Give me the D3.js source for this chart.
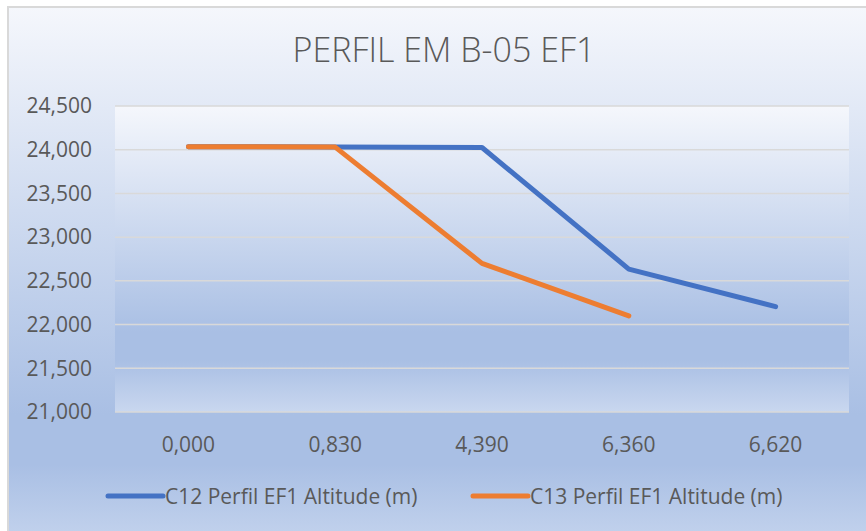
<!DOCTYPE html>
<meta charset="utf-8">
<style>
body { margin: 0; background: #fff; }
text { font-family: "Open Sans", sans-serif; fill: #595959; }
.grid line { stroke: #d9d9d9; stroke-width: 1.5; }
</style>
<svg width="866" height="531"></svg>
<script src="https://cdn.jsdelivr.net/npm/d3@7"></script>
<script>

var categories = ["0,000", "0,830", "4,390", "6,360", "6,620"];
var c12 = [24.035, 24.03, 24.025, 22.635, 22.205];
var c13 = [24.035, 24.03, 22.7, 22.1];
var yTicks = [21, 21.5, 22, 22.5, 23, 23.5, 24, 24.5];
var seriesNames = ["C12 Perfil EF1 Altitude (m)", "C13 Perfil EF1 Altitude (m)"];
var colors = ["#4472c4", "#ed7d31"];

var svg = d3.select("svg"),
    width = +svg.attr("width"),
    height = +svg.attr("height");

var margin = {top: 106, right: 17, bottom: 119, left: 115};

// gradient like excel light gradient accent 1
var defs = svg.append("defs");
var grad = defs.append("linearGradient")
    .attr("id", "bg")
    .attr("x1", 0).attr("y1", 0).attr("x2", 0).attr("y2", 1);
grad.append("stop").attr("offset", "0%").attr("stop-color", "#f5f7fc");
grad.append("stop").attr("offset", "74%").attr("stop-color", "#a9bfe4");
grad.append("stop").attr("offset", "83%").attr("stop-color", "#a9bfe4");
grad.append("stop").attr("offset", "100%").attr("stop-color", "#c9d7ef");

svg.append("rect")
    .attr("x", 8).attr("y", 7)
    .attr("width", width + 10).attr("height", height + 20)
    .attr("fill", "url(#bg)")
    .attr("stroke", "#d9d9d9")
    .attr("stroke-width", 2);

var x = d3.scaleBand()
    .domain(categories)
    .range([margin.left, width - margin.right]);

var y = d3.scaleLinear()
    .domain([21, 24.5])
    .range([height - margin.bottom, margin.top]);

svg.append("rect")
    .attr("x", margin.left).attr("y", margin.top)
    .attr("width", width - margin.left - margin.right)
    .attr("height", height - margin.top - margin.bottom)
    .attr("fill", "url(#bg)");

var fmt = function(d) { return d3.format(",.3f")(d).replace(".", ","); };

// grid
svg.append("g")
    .attr("class", "grid")
  .selectAll("line")
  .data(yTicks)
  .enter().append("line")
    .attr("x1", margin.left)
    .attr("x2", width - margin.right)
    .attr("y1", function(d) { return y(d); })
    .attr("y2", function(d) { return y(d); });

// y axis
var yAxis = svg.append("g")
    .attr("transform", "translate(" + (margin.left - 23) + ",0)")
    .call(d3.axisLeft(y).tickValues(yTicks).tickSize(0).tickFormat(fmt));
yAxis.select(".domain").remove();
yAxis.selectAll("text")
    .attr("x", 0)
    .style("font-size", "21px")
    .style("font-family", null)
    .attr("fill", "#595959");

// x axis
var xAxis = svg.append("g")
    .attr("transform", "translate(0," + (height - margin.bottom) + ")")
    .call(d3.axisBottom(x).tickSize(0));
xAxis.select(".domain").remove();
xAxis.selectAll("text")
    .attr("y", 40)
    .attr("dy", null)
    .style("font-size", "21px")
    .style("font-family", null)
    .attr("fill", "#595959");

var line = d3.line()
    .x(function(d, i) { return x(categories[i]) + x.bandwidth() / 2; })
    .y(function(d) { return y(d); });

[c12, c13].forEach(function(s, i) {
  svg.append("path")
      .datum(s)
      .attr("fill", "none")
      .attr("stroke", colors[i])
      .attr("stroke-width", 5)
      .attr("stroke-linejoin", "round")
      .attr("stroke-linecap", "round")
      .attr("d", line);
});

// title
svg.append("text")
    .attr("x", 444)
    .attr("y", 62)
    .attr("text-anchor", "middle")
    .style("font-size", "34px")
    .style("font-weight", 300)
    .text("PERFIL EM B-05 EF1");

// legend
var legX = [108, 473];
var leg = svg.append("g").selectAll("g")
  .data(seriesNames)
  .enter().append("g")
    .attr("transform", function(d, i) { return "translate(" + legX[i] + ",496)"; });
leg.append("line")
    .attr("x1", 0).attr("x2", 55)
    .attr("stroke", function(d, i) { return colors[i]; })
    .attr("stroke-width", 5)
    .attr("stroke-linecap", "round");
leg.append("text")
    .attr("x", 57)
    .attr("y", 8)
    .style("font-size", "21px")
    .text(function(d) { return d; });

</script>
